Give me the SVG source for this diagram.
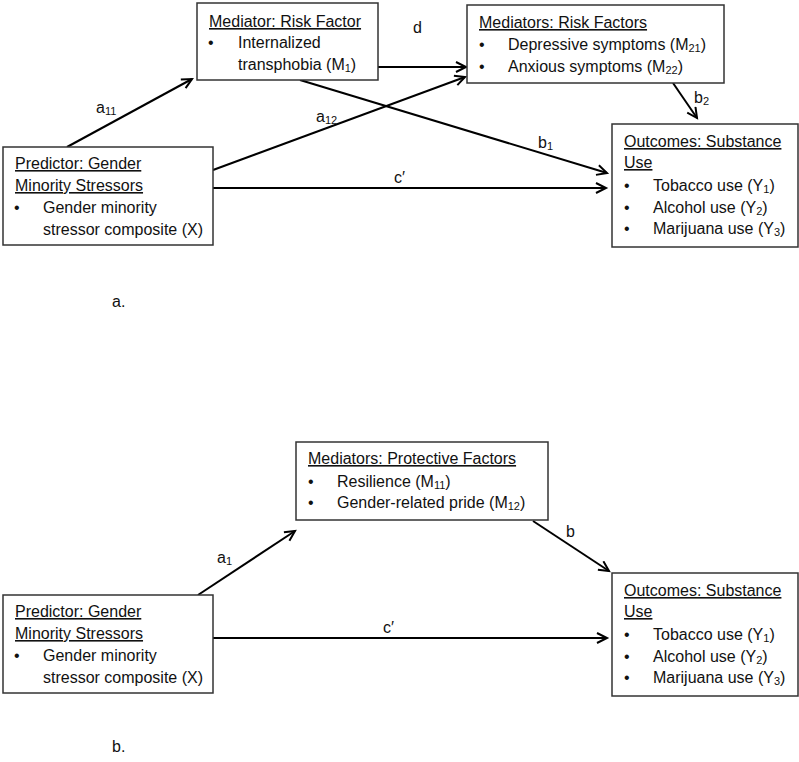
<svg xmlns="http://www.w3.org/2000/svg" width="799" height="762" viewBox="0 0 799 762">
<defs>
<style>
text{font-family:"Liberation Sans",Arial,sans-serif;font-size:16px;fill:#111}
.t{text-decoration:underline}
.box{fill:#fff;stroke:#333;stroke-width:1.5}
.ln{stroke:#000;stroke-width:2;fill:none;marker-end:url(#ah)}
.s{font-size:11px}
</style>
<marker id="ah" markerWidth="14" markerHeight="14" refX="11" refY="6" orient="auto" markerUnits="userSpaceOnUse">
<path d="M1,1 L11,6 L1,11" fill="none" stroke="#000" stroke-width="2"/>
</marker>
</defs>
<rect width="799" height="762" fill="#fff"/>
<g id="connectors">
<line class="ln" x1="67" y1="147" x2="192" y2="79"/>
<line class="ln" x1="213" y1="170" x2="465" y2="77"/>
<line class="ln" x1="378" y1="67" x2="466" y2="67"/>
<line class="ln" x1="300" y1="80" x2="607" y2="173"/>
<line class="ln" x1="673" y1="83" x2="697" y2="118"/>
<line class="ln" x1="213" y1="188" x2="606" y2="188"/>
<line class="ln" x1="198" y1="595" x2="295" y2="531"/>
<line class="ln" x1="533" y1="521" x2="609" y2="571"/>
<line class="ln" x1="213" y1="638" x2="607" y2="638"/>
<text x="96" y="113">a<tspan class="s" dy="2">11</tspan></text>
<text x="413" y="33">d</text>
<text x="316" y="122">a<tspan class="s" dy="2">12</tspan></text>
<text x="538" y="148">b<tspan class="s" dy="2">1</tspan></text>
<text x="694" y="103">b<tspan class="s" dy="2">2</tspan></text>
<text x="394" y="183">c′</text>
<text x="217" y="563">a<tspan class="s" dy="2">1</tspan></text>
<text x="566" y="537">b</text>
<text x="383" y="633">c′</text>
</g>
<g id="mediator-risk">
<rect class="box" x="197" y="3" width="181" height="77"/>
<text class="t" x="209" y="27">Mediator: Risk Factor</text>
<text x="208" y="48">•</text>
<text x="238" y="48">Internalized</text>
<text x="238" y="70">transphobia (M<tspan class="s" dy="2">1</tspan><tspan dy="-2">)</tspan></text>
</g>
<g id="mediators-risk">
<rect class="box" x="467" y="5" width="257" height="78"/>
<text class="t" x="479" y="28">Mediators: Risk Factors</text>
<text x="479" y="50">•</text>
<text x="508" y="50">Depressive symptoms (M<tspan class="s" dy="2">21</tspan><tspan dy="-2">)</tspan></text>
<text x="479" y="72">•</text>
<text x="508" y="72">Anxious symptoms (M<tspan class="s" dy="2">22</tspan><tspan dy="-2">)</tspan></text>
</g>
<g id="predictor-a">
<rect class="box" x="3" y="147" width="210" height="98"/>
<text class="t" x="15" y="169">Predictor: Gender</text>
<text class="t" x="15" y="191">Minority Stressors</text>
<text x="14" y="213">•</text>
<text x="43" y="213">Gender minority</text>
<text x="43" y="235">stressor composite (X)</text>
</g>
<g id="outcomes-a">
<rect class="box" x="612" y="124" width="186" height="123"/>
<text class="t" x="624" y="147">Outcomes: Substance</text>
<text class="t" x="624" y="168">Use</text>
<text x="624" y="191">•</text>
<text x="653" y="191">Tobacco use (Y<tspan class="s" dy="2">1</tspan><tspan dy="-2">)</tspan></text>
<text x="624" y="213">•</text>
<text x="653" y="213">Alcohol use (Y<tspan class="s" dy="2">2</tspan><tspan dy="-2">)</tspan></text>
<text x="624" y="234">•</text>
<text x="653" y="234">Marijuana use (Y<tspan class="s" dy="2">3</tspan><tspan dy="-2">)</tspan></text>
</g>
<text x="112" y="307">a.</text>
<g id="mediators-protective">
<rect class="box" x="296" y="442" width="252" height="78"/>
<text class="t" x="308" y="464">Mediators: Protective Factors</text>
<text x="308" y="487">•</text>
<text x="337" y="487">Resilience (M<tspan class="s" dy="2">11</tspan><tspan dy="-2">)</tspan></text>
<text x="308" y="508">•</text>
<text x="337" y="508">Gender-related pride (M<tspan class="s" dy="2">12</tspan><tspan dy="-2">)</tspan></text>
</g>
<g id="predictor-b">
<rect class="box" x="3" y="595" width="210" height="98"/>
<text class="t" x="15" y="617">Predictor: Gender</text>
<text class="t" x="15" y="639">Minority Stressors</text>
<text x="14" y="661">•</text>
<text x="43" y="661">Gender minority</text>
<text x="43" y="683">stressor composite (X)</text>
</g>
<g id="outcomes-b">
<rect class="box" x="612" y="573" width="186" height="123"/>
<text class="t" x="624" y="596">Outcomes: Substance</text>
<text class="t" x="624" y="617">Use</text>
<text x="624" y="640">•</text>
<text x="653" y="640">Tobacco use (Y<tspan class="s" dy="2">1</tspan><tspan dy="-2">)</tspan></text>
<text x="624" y="662">•</text>
<text x="653" y="662">Alcohol use (Y<tspan class="s" dy="2">2</tspan><tspan dy="-2">)</tspan></text>
<text x="624" y="683">•</text>
<text x="653" y="683">Marijuana use (Y<tspan class="s" dy="2">3</tspan><tspan dy="-2">)</tspan></text>
</g>
<text x="112" y="752">b.</text>
</svg>
